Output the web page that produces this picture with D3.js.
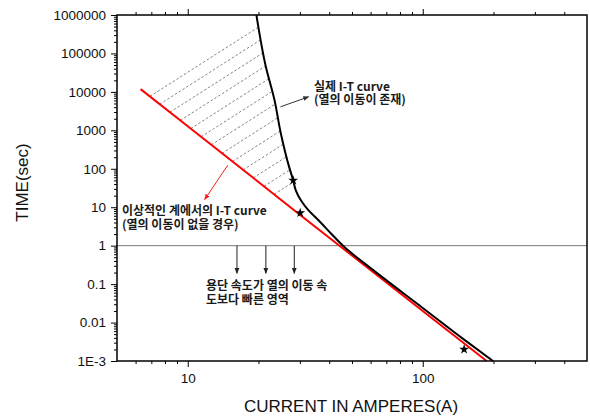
<!DOCTYPE html>
<html>
<head>
<meta charset="utf-8">
<script src="https://cdn.jsdelivr.net/npm/d3@7"></script>
<style>
  body { margin: 0; background: #fff; }
  svg { display: block; }
</style>
</head>
<body>
<div id="chart"></div>
<script>
// I-T curve data (current in A, time in sec)
const redCurrent = [6.3, 10, 30, 100, 187];
const redTime = [11800, 1280, 6.4, 0.020, 0.001];

const blackCurrent = [19.6, 21.5, 23.4, 24.9, 27.0, 28.1, 28.8, 30.3, 32.6, 36.0, 40.7, 46.4, 60, 100, 150, 199];
const blackTime = [1000000, 45000, 6100, 830, 112, 50, 28, 15.2, 8.4, 4.6, 2.07, 0.92, 0.26, 0.024, 0.0036, 0.001];

const starCurrent = [28.1, 30.1, 150];
const starTime = [50, 7.1, 0.002];

// hatch lines start on the red curve and run up to the black curve
const hatchStart = [6.9, 7.6, 8.4, 9.3, 10.3, 11.4, 12.6, 14, 15.5, 17.2, 19, 21.1, 23.3];
const hatchExp = 3.9;

const fastCurrent = [16.2, 21.5, 28.4];   // down arrows under the 1 sec line
const fastFrom = 1, fastTo = 0.19;

const yTickValues = [0.001, 0.01, 0.1, 1, 10, 100, 1000, 10000, 100000, 1000000];
const yTickLabels = ["1E-3", "0.01", "0.1", "1", "10", "100", "1000", "10000", "100000", "1000000"];
const xTickValues = [10, 100];
const xTickLabels = ["10", "100"];

const margin = {top: 15, right: 3, bottom: 55, left: 117};
const width = 470, height = 346;

const svg = d3.select("#chart").append("svg")
  .attr("width", 590).attr("height", 416);

const defs = svg.append("defs");
[["arrBlack", "#222"], ["arrRed", "#ff1a1a"], ["arrGray", "#333"]].forEach(([id, c]) => {
  defs.append("marker").attr("id", id)
    .attr("viewBox", "0 0 10 10").attr("refX", 9).attr("refY", 5)
    .attr("markerWidth", 6).attr("markerHeight", 6).attr("markerUnits", "userSpaceOnUse")
    .attr("orient", "auto")
    .append("path").attr("d", "M0,1 L10,5 L0,9 Z").attr("fill", c);
});

const g = svg.append("g").attr("transform", "translate(" + margin.left + "," + margin.top + ")");

const x = d3.scaleLog().domain([5, 500]).range([0, width]);
const y = d3.scaleLog().domain([0.001, 1000000]).range([height, 0]);

// minor ticks 2..9 in every decade
const xMinor = [], yMinor = [];
[1, 10, 100].forEach(d => { for (let k = 2; k <= 9; k++) { const v = d * k; if (v > 5 && v < 500) xMinor.push(v); } });
yTickValues.slice(0, -1).forEach(d => { for (let k = 2; k <= 9; k++) yMinor.push(d * k); });

const axisFont = "'Liberation Sans', Arial, sans-serif";

function styleAxis(sel) {
  sel.select(".domain").remove();
  sel.selectAll("text").attr("font-family", axisFont).attr("font-size", "13.5px").attr("fill", "#111");
  sel.selectAll("line").attr("stroke", "#000").attr("stroke-width", 1);
}

// bottom axis
g.append("g").attr("transform", "translate(0," + height + ")")
  .call(d3.axisBottom(x).tickValues(xTickValues).tickSize(6).tickPadding(6)
    .tickFormat((d, i) => xTickLabels[i]))
  .call(styleAxis);
g.append("g").attr("transform", "translate(0," + height + ")")
  .call(d3.axisBottom(x).tickValues(xMinor).tickSize(3).tickFormat(""))
  .call(styleAxis);
// top axis
g.append("g")
  .call(d3.axisTop(x).tickValues(xTickValues).tickSize(6).tickFormat(""))
  .call(styleAxis);
g.append("g")
  .call(d3.axisTop(x).tickValues(xMinor).tickSize(3).tickFormat(""))
  .call(styleAxis);
// left axis
g.append("g")
  .call(d3.axisLeft(y).tickValues(yTickValues).tickSize(6).tickPadding(5)
    .tickFormat((d, i) => yTickLabels[i]))
  .call(styleAxis);
g.append("g")
  .call(d3.axisLeft(y).tickValues(yMinor).tickSize(3).tickFormat(""))
  .call(styleAxis);

// 1 sec reference line
g.append("line")
  .attr("x1", 0).attr("x2", width)
  .attr("y1", y(1)).attr("y2", y(1))
  .attr("stroke", "#777").attr("stroke-width", 1);

const redPts = redCurrent.map((c, i) => [x(c), y(redTime[i])]);
const blackPts = blackCurrent.map((c, i) => [x(c), y(blackTime[i])]);

// red curve value at a current (log-log interpolation)
const redLog = d3.scaleLog().domain(redCurrent).range(redTime.map(Math.log10));
const redAt = c => Math.pow(10, redLog(c));

// hatch lines: from the red curve along t ~ I^hatchExp until the black curve
hatchStart.forEach(c => {
  const t0 = redAt(c);
  const p0 = [x(c), y(t0)];
  const p1 = [x(c * 10), y(t0 * Math.pow(10, hatchExp))];
  const dx = p1[0] - p0[0], dy = p1[1] - p0[1];
  let best = null;
  for (let i = 0; i < blackPts.length - 1; i++) {
    const a = blackPts[i], b = blackPts[i + 1];
    const ex = b[0] - a[0], ey = b[1] - a[1];
    const den = dx * ey - dy * ex;
    if (Math.abs(den) < 1e-9) continue;
    const s = ((a[0] - p0[0]) * ey - (a[1] - p0[1]) * ex) / den;
    const u = ((a[0] - p0[0]) * dy - (a[1] - p0[1]) * dx) / den;
    if (s > 0 && u >= 0 && u <= 1 && (best === null || s < best)) best = s;
  }
  if (best === null) return;
  g.append("line")
    .attr("x1", p0[0]).attr("y1", p0[1])
    .attr("x2", p0[0] + dx * best).attr("y2", p0[1] + dy * best)
    .attr("stroke", "#777").attr("stroke-width", 0.9)
    .attr("stroke-dasharray", "2.5,2");
});

// curves
g.append("path")
  .attr("d", d3.line()(redPts))
  .attr("fill", "none").attr("stroke", "#ff0000").attr("stroke-width", 2);

g.append("path")
  .attr("d", d3.line().curve(d3.curveMonotoneY)(blackPts))
  .attr("fill", "none").attr("stroke", "#000").attr("stroke-width", 2);

// stars
g.selectAll(".star").data(starCurrent).enter().append("path")
  .attr("class", "star")
  .attr("transform", (c, i) => "translate(" + x(c) + "," + y(starTime[i]) + ")")
  .attr("d", d3.symbol().type(d3.symbolStar).size(30))
  .attr("fill", "#000");

// frame
g.append("rect")
  .attr("width", width).attr("height", height)
  .attr("fill", "none").attr("stroke", "#000").attr("stroke-width", 1.5);

// annotations (absolute page positions)
const krFont = "'Noto Sans CJK KR', 'Noto Sans', sans-serif";
function label(px, py, lines) {
  const t = svg.append("text")
    .attr("font-family", krFont).attr("font-size", "12px").attr("font-weight", "bold")
    .attr("fill", "#1a1a1a");
  lines.forEach((s, i) => {
    t.append("tspan").attr("x", px).attr("y", py + i * 13.5).text(s);
  });
}

// arrow from black curve to its label
g.append("line")
  .attr("x1", x(24.8)).attr("y1", y(4090))
  .attr("x2", x(32.7)).attr("y2", y(7450))
  .attr("stroke", "#333").attr("stroke-width", 1)
  .attr("marker-end", "url(#arrGray)");
label(314, 90.5, ["실제 I-T curve", "(열의 이동이 존재)"]);

// arrow from red curve to its label
g.append("line")
  .attr("x1", x(14.8)).attr("y1", y(124))
  .attr("x2", x(11.8)).attr("y2", y(15.8))
  .attr("stroke", "#ff1a1a").attr("stroke-width", 1)
  .attr("marker-end", "url(#arrRed)");
label(122, 215, ["이상적인 계에서의 I-T curve", "(열의 이동이 없을 경우)"]);

// down arrows in the fast region
fastCurrent.forEach(c => {
  g.append("line")
    .attr("x1", x(c)).attr("x2", x(c))
    .attr("y1", y(fastFrom)).attr("y2", y(fastTo))
    .attr("stroke", "#222").attr("stroke-width", 1)
    .attr("marker-end", "url(#arrBlack)");
});
label(206, 290, ["용단 속도가 열의 이동 속", "도보다 빠른 영역"]);

// axis titles
svg.append("text")
  .attr("x", margin.left + width / 2 - 1).attr("y", 411.5)
  .attr("text-anchor", "middle")
  .attr("font-family", axisFont).attr("font-size", "17px").attr("fill", "#111")
  .text("CURRENT IN AMPERES(A)");

svg.append("text")
  .attr("transform", "translate(28,182.5) rotate(-90)")
  .attr("text-anchor", "middle")
  .attr("font-family", axisFont).attr("font-size", "17px").attr("fill", "#111")
  .text("TIME(sec)");
</script>
</body>
</html>
